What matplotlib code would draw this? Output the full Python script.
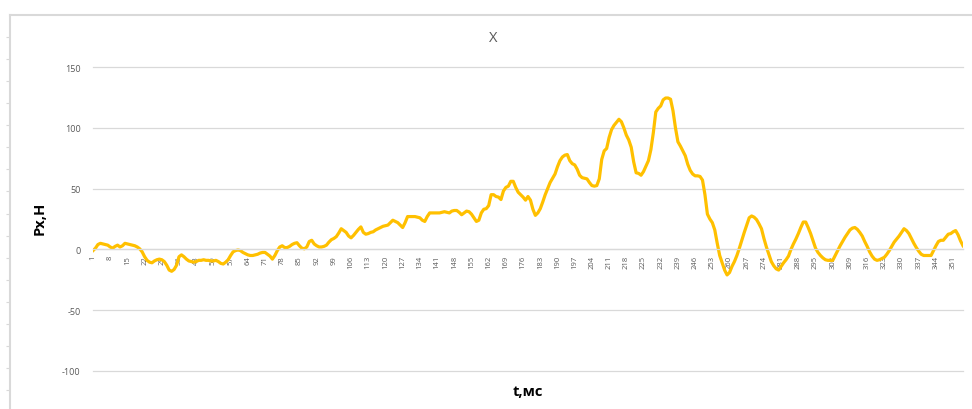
import numpy as np
import matplotlib.pyplot as plt

plt.rcParams['font.family'] = ['Open Sans', 'DejaVu Sans']

# Px over time, one value per sample (t = 1..355)
px = [
    -1, 1, 4, 5, 4.5, 4, 3.5, 2, 1, 2.5,
    3.5, 2, 3, 5, 4.5, 4, 3.5, 3, 2, 0.5,
    -2, -6, -9, -10.5, -11, -9.5, -8.5, -8, -8.5, -10,
    -13, -17, -18, -16.5, -13, -6, -4.5, -6, -8, -9.5,
    -10, -10.5, -10, -9, -9, -8.5, -9, -9, -9.5, -9.5,
    -9, -10, -11.5, -12, -10.5, -8.5, -5, -2, -1, -0.5,
    -1, -2.5, -3.5, -4.5, -5, -5, -4.5, -4, -3, -2.5,
    -2.5, -4, -5.5, -8, -5, -1, 2, 3, 1.5, 1.5,
    2.5, 4, 5, 5.5, 3, 1, 0.5, 2, 6.5, 7.5,
    4.5, 3, 2, 2, 2.5, 3.5, 6, 8, 9, 10.5,
    13.5, 17, 15.5, 14, 11, 9.5, 11.5, 14, 16.5, 18.5,
    14, 12.5, 13, 14, 14.5, 16, 17, 18, 19, 19.5,
    20, 22, 24, 23, 22, 20, 18, 22, 27, 27,
    27, 27, 26.5, 26, 24, 23, 27, 30, 30, 30,
    30, 30, 30.5, 31, 30.5, 30, 31.5, 32, 32, 30.5,
    28.5, 30, 31.5, 31, 29, 26, 23, 24, 30, 33,
    33.5, 36, 45, 45, 43.5, 43, 41, 48, 51, 52,
    56, 56, 51, 47, 45, 43, 40.5, 43.5, 40.5, 33,
    28, 30, 33.5, 39, 45, 50, 55, 58.5, 62, 68,
    73, 76, 77.5, 78, 73, 70.5, 69.5, 66, 61, 59,
    58.5, 58, 55, 52.5, 52, 52.5, 58, 74, 81, 83,
    92, 98.5, 102, 104.5, 107, 105, 100, 94, 90, 84,
    72, 63, 62.5, 61, 64, 68.5, 73, 82, 96, 113,
    116, 118, 123, 124.5, 124.5, 123.5, 114, 100, 88.5, 85,
    81, 77, 70, 65, 62, 60.5, 60.5, 60, 57, 45,
    29, 25, 22, 16, 5, -5, -11, -17, -21, -19,
    -14, -10, -5, 1, 7.5, 14, 20, 26, 27.5, 26.5,
    24.5, 21, 17, 9, 2, -4, -10, -13.5, -16, -17,
    -14, -11, -8.5, -5.5, 0, 4.5, 8.5, 13, 18, 22.5,
    22.5, 18, 13, 7, 1, -2.5, -5, -7, -8.5, -9,
    -9, -9, -5, -1, 3, 6.5, 10, 13, 16, 17.5,
    18, 16.5, 14, 11, 6.5, 2.5, -2, -5.5, -8, -9,
    -8.5, -7.5, -6.5, -4, -1, 2.5, 6, 8.5, 11, 14,
    17, 15.5, 13, 9, 5, 1.5, -1.5, -4, -5, -5,
    -5, -5, -1, 3, 6.5, 7.5, 7.5, 10, 12.5, 13,
    14.5, 15.5, 12, 7, 3,
]
t = np.arange(1, len(px) + 1)
y_ticks = [-100, -50, 0, 50, 100, 150]

W, H = 972, 410
fig = plt.figure(figsize=(W / 100, H / 100), dpi=100)

# outer frame with small ruler ticks on the left
frame = fig.add_axes([10 / W, 0, 1 - 10 / W, (H - 16) / H])
frame.set_xlim(0, 1)
frame.set_ylim(H - 16, 0)
frame.patch.set_alpha(0)
for s in ['right', 'bottom']:
    frame.spines[s].set_visible(False)
for s in ['left', 'top']:
    frame.spines[s].set_color('#d9d9d9')
    frame.spines[s].set_linewidth(1.5)
frame.set_xticks([])
frame.set_yticks(np.arange(21.7, H - 16, 22.1))
frame.tick_params(axis='y', length=3, color='#d9d9d9', labelleft=False)

ax = fig.add_axes([93 / W, (H - 372) / H, 870 / W, 304 / H])
# category axis crosses at zero
ax.spines['bottom'].set_position(('data', 0))
ax.plot(t, px, color='#FFC000', linewidth=2.3, solid_joinstyle='round')

ax.set_xlim(1, len(px))
ax.set_ylim(-100, 150)
ax.set_yticks(y_ticks)
ax.set_yticklabels([str(v) for v in y_ticks])
ax.set_xticks(t[::7])
ax.set_xticklabels([str(v) for v in t[::7]])

ax.grid(axis='y', color='#d9d9d9', linewidth=0.9)
for gl in ax.get_ygridlines():
    gl.set_clip_on(False)
ax.set_axisbelow(True)
for s in ['top', 'right', 'left']:
    ax.spines[s].set_visible(False)
ax.spines['bottom'].set_color('#d9d9d9')
ax.spines['bottom'].set_linewidth(0.9)
ax.tick_params(axis='y', length=0, pad=9, labelsize=6.5, labelcolor='#595959')
ax.tick_params(axis='x', length=0, pad=4, labelsize=5.5, labelcolor='#595959',
               labelrotation=90)

fig.text(493 / W, 1 - 38 / H, 'X', ha='center', va='center',
         fontsize=10.5, color='#595959')
fig.text(40 / W, 1 - 218 / H, 'Px,H', ha='center', va='center',
         rotation=90, fontsize=10.5, fontweight='bold', color='#000000')
fig.text(528 / W, 1 - 392 / H, 't,мс', ha='center', va='center',
         fontsize=10.5, fontweight='bold', color='#000000')

fig.savefig('out.png', dpi=100)
